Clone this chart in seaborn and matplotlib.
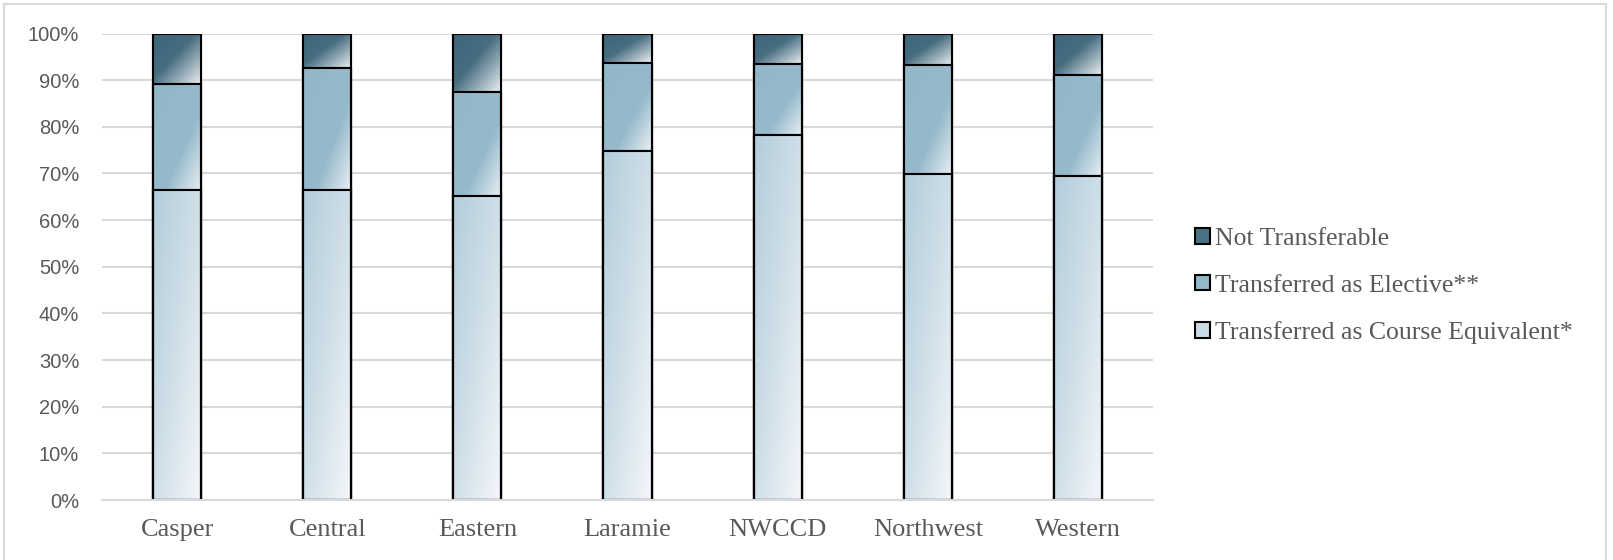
import numpy as np
import matplotlib
matplotlib.use("Agg")
import matplotlib.pyplot as plt
from matplotlib.patches import Patch, Rectangle
from matplotlib.lines import Line2D
from matplotlib.ticker import PercentFormatter
import matplotlib.colors as mcolors
import seaborn as sns

# ---------------- data ----------------
categories = ["Casper", "Central", "Eastern", "Laramie", "NWCCD", "Northwest", "Western"]
course_equivalent = [66.5, 66.5, 65.1, 74.8, 78.3, 69.8, 69.4]
elective = [22.7, 26.2, 22.3, 18.9, 15.1, 23.4, 21.8]
not_transferable = [10.8, 7.3, 12.6, 6.3, 6.6, 6.8, 8.8]
series_labels = ["Not Transferable", "Transferred as Elective**", "Transferred as Course Equivalent*"]

# ---------------- style ----------------
sns.set_theme(style="white")
plt.rcParams["font.family"] = ["Liberation Serif", "DejaVu Serif"]
text_color = "#595959"
grid_color = "#D9D9D9"

# gradient stops (t from top-left to bottom-right, scaled with shape)
grad_nt = [(0.0, "#3D6578"), (0.45, "#466D80"), (1.0, "#EEF1F4")]
grad_el = [(0.0, "#92B7C9"), (0.62, "#96BACB"), (1.0, "#EAF0F4")]
grad_ce = [(0.0, "#B3CDDA"), (0.5, "#CFDFE8"), (1.0, "#F5F7FB")]
solid = ["#4A7184", "#93B8CA", "#C9DBE5"]

fig = plt.figure(figsize=(16.13, 5.6), dpi=100)
ax = fig.add_axes([102 / 1613, 60 / 560, (1153 - 102) / 1613, (500 - 33.5) / 560])

cum_el = [c + e for c, e in zip(course_equivalent, elective)]
cum_nt = [c + e + n for c, e, n in zip(course_equivalent, elective, not_transferable)]

layers = [
    (cum_nt, cum_el, grad_nt, solid[0]),
    (cum_el, course_equivalent, grad_el, solid[1]),
    (course_equivalent, [0] * len(categories), grad_ce, solid[2]),
]


def gradient_rgb(stops, nx=60, ny=200):
    u = np.linspace(0, 1, nx)[None, :]
    r = np.linspace(0, 1, ny)[:, None]
    t = (u + r) / 2.0
    pos = [s[0] for s in stops]
    cols = np.array([mcolors.to_rgb(s[1]) for s in stops])
    img = np.zeros((ny, nx, 3))
    for ch in range(3):
        img[:, :, ch] = np.interp(t, pos, cols[:, ch])
    return img


all_patches = []
for k, (tops, lows, stops, col) in enumerate(layers):
    n_before = len(ax.patches)
    z = 2 + 2 * k
    sns.barplot(x=categories, y=tops, color=col, saturation=1, width=0.32,
                edgecolor="black", linewidth=1.5, ax=ax, zorder=z)
    new = ax.patches[n_before:]
    img = gradient_rgb(stops)
    for p, lo, hi in zip(new, lows, tops):
        x0 = p.get_x()
        x1 = x0 + p.get_width()
        im = ax.imshow(img, extent=[x0, x1, lo, hi], aspect="auto",
                       interpolation="bilinear", zorder=z + 0.5, origin="upper")
        im.set_clip_path(p)
        all_patches.append(p)

# outlines on top
for p in all_patches:
    ax.add_patch(Rectangle((p.get_x(), p.get_y()), p.get_width(), p.get_height(),
                           fill=False, edgecolor="black", linewidth=1.5, zorder=20))

ax.set_xlim(-0.5, len(categories) - 0.5)
ax.set_ylim(0, 100)
ax.set_yticks(np.arange(0, 101, 10))
ax.yaxis.set_major_formatter(PercentFormatter(decimals=0))
ax.set_xlabel("")
ax.set_ylabel("")
ax.grid(False)
ax.yaxis.grid(True, color=grid_color, linewidth=1.5)
ax.set_axisbelow(True)
for s in ["top", "right", "left"]:
    ax.spines[s].set_visible(False)
ax.spines["bottom"].set_color(grid_color)
ax.spines["bottom"].set_linewidth(1.5)
ax.spines["bottom"].set_zorder(25)
ax.tick_params(axis="both", length=0)
ax.tick_params(axis="y", pad=16.5, labelsize=14.5, labelcolor=text_color)
ax.tick_params(axis="x", pad=14, labelsize=19, labelcolor=text_color)
for lab in ax.get_yticklabels():
    lab.set_fontfamily(["Liberation Sans", "DejaVu Sans"])

handles = [Patch(facecolor=solid[0], edgecolor="black", linewidth=1.5),
           Patch(facecolor=solid[1], edgecolor="black", linewidth=1.5),
           Patch(facecolor=solid[2], edgecolor="black", linewidth=1.5)]
leg = fig.legend(handles, series_labels, loc="center left",
                 bbox_to_anchor=(1195 / 1613, (560 - 286) / 560),
                 frameon=False, fontsize=18.5, handlelength=0.58, handleheight=0.58,
                 handletextpad=0.2, labelspacing=0.95, borderpad=0, borderaxespad=0)
for t in leg.get_texts():
    t.set_color(text_color)

# chart border
bc = "#D9D9D9"
fig.add_artist(Line2D([4 / 1613, 4 / 1613], [0, 1 - 4 / 560], color=bc, linewidth=1.5))
fig.add_artist(Line2D([4 / 1613, 1606 / 1613], [1 - 4 / 560, 1 - 4 / 560], color=bc, linewidth=1.5))
fig.add_artist(Line2D([1606 / 1613, 1606 / 1613], [0, 1 - 4 / 560], color=bc, linewidth=1.5))

fig.savefig("out.png", dpi=100)
